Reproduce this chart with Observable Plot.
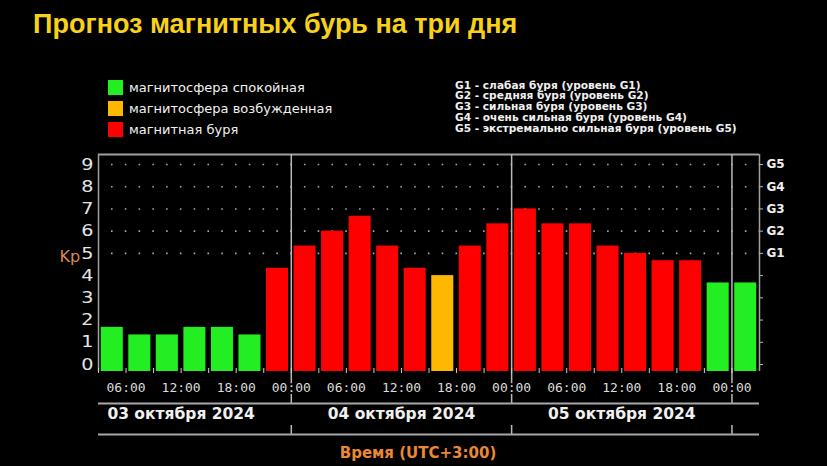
<!DOCTYPE html>
<html>
<head>
<meta charset="utf-8">
<script src="https://cdn.jsdelivr.net/npm/d3@7"></script>
<script src="https://cdn.jsdelivr.net/npm/@observablehq/plot@0.6"></script>
<style>
  html, body { margin: 0; padding: 0; background: #000; }
  #wrap { position: relative; width: 827px; height: 466px; background: #000; overflow: hidden; }
  #title { position: absolute; left: 33px; top: 11px; font: bold 27px/27px "Liberation Sans", Arial, sans-serif; color: #f8d21a; white-space: nowrap; }
  .leg { position: absolute; left: 108px; font: 13px/15px "DejaVu Sans", sans-serif; color: #f2f2f2; white-space: nowrap; }
  .leg span.sw { display: inline-block; width: 15px; height: 15px; vertical-align: top; margin-right: 6px; }
  #glegend { position: absolute; left: 455px; top: 79.7px; font: bold 10.6px/10.7px "DejaVu Sans", sans-serif; color: #f0f0f0; white-space: pre; }
  #chart { position: absolute; left: 0; top: 0; }
</style>
</head>
<body>
<div id="wrap">
  <div id="chart"></div>
  <div id="title"></div>
  <div id="legend"></div>
  <div id="glegend"></div>
</div>
<script>
// ---- data ----
const titleText = "Прогноз магнитных бурь на три дня";
const levelNames = ["магнитосфера спокойная", "магнитосфера возбужденная", "магнитная буря"];
const levelColors = ["#22ee22", "#ffb800", "#ff0000"];
const gLegend = [
  "G1 - слабая буря (уровень G1)",
  "G2 - средняя буря (уровень G2)",
  "G3 - сильная буря (уровень G3)",
  "G4 - очень сильная буря (уровень G4)",
  "G5 - экстремально сильная буря (уровень G5)"
];
// slot start, hours since 03.10.2024 00:00 (UTC+3), 3-hour slots
const slotStart = [3, 6, 9, 12, 15, 18, 21, 24, 27, 30, 33, 36, 39, 42, 45, 48, 51, 54, 57, 60, 63, 66, 69, 72];
const kpValues  = [1.67, 1.33, 1.33, 1.67, 1.67, 1.33, 4.33, 5.33, 6.0, 6.67, 5.33, 4.33, 4.0, 5.33, 6.33, 7.0, 6.33, 6.33, 5.33, 5.0, 4.67, 4.67, 3.67, 3.67];
const kpLevel   = [0, 0, 0, 0, 0, 0, 2, 2, 2, 2, 2, 2, 1, 2, 2, 2, 2, 2, 2, 2, 2, 2, 0, 0];
const slotHours = 3;
const xStart = 3, xEnd = 75;
const kpMin = -0.315, kpMax = 9.45;
const kpTicks = [0, 1, 2, 3, 4, 5, 6, 7, 8, 9];
const gridLevels = [5, 6, 7, 8, 9];
const gTickLabels = ["", "", "", "", "", "G1", "G2", "G3", "G4", "G5"];
const timeTicks = [6, 12, 18, 24, 30, 36, 42, 48, 54, 60, 66, 72];
const dayBounds = [24, 48, 72];
const dayCenters = [12, 36, 60];
const dayLabels = ["03 октября 2024", "04 октября 2024", "05 октября 2024"];
const yLabel = "Kp";
const xLabel = "Время (UTC+3:00)";

// ---- header / legends ----
document.getElementById("title").textContent = titleText;
const legTops = [80, 101, 122];
const legend = document.getElementById("legend");
levelNames.forEach((n, i) => {
  const d = document.createElement("div");
  d.className = "leg";
  d.style.top = legTops[i] + "px";
  d.innerHTML = `<span class="sw" style="background:${levelColors[i]}"></span>${n}`;
  legend.appendChild(d);
});
document.getElementById("glegend").textContent = gLegend.join("\n");

// ---- chart ----
const rows = slotStart.map((s, i) => ({start: s, end: s + slotHours, kp: kpValues[i], level: kpLevel[i]}));
const pad2 = h => String(h % 24).padStart(2, "0") + ":00";

const chart = Plot.plot({
  width: 827,
  height: 466,
  marginTop: 154,
  marginBottom: 95,
  marginLeft: 98,
  marginRight: 68,
  style: {background: "#000", color: "#ddd", fontFamily: "DejaVu Sans, sans-serif", overflow: "visible"},
  x: {domain: [xStart, xEnd], axis: null},
  y: {domain: [kpMin, kpMax], axis: null},
  marks: [
    Plot.ruleY(gridLevels, {stroke: "#a8a8a8", strokeWidth: 1.6, strokeDasharray: "1.6,12.18", strokeDashoffset: 0.8}),
    Plot.rect(rows, {x1: "start", x2: "end", y1: () => kpMin, y2: "kp", fill: d => levelColors[d.level], insetLeft: 2.75, insetRight: 2.75}),
    // frame: top, left, right
    Plot.ruleY([kpMax], {stroke: "#a0a0a0", strokeWidth: 2}),
    Plot.ruleX([xStart, xEnd], {stroke: "#a0a0a0", strokeWidth: 1.5}),
    // day separators
    Plot.ruleX(dayBounds, {stroke: "#b8b8b8", strokeWidth: 1.5, insetBottom: -32}),
    Plot.ruleX(dayBounds, {stroke: "#b8b8b8", strokeWidth: 1.5, insetTop: 271, insetBottom: -63}),
    // small slot ticks
    Plot.ruleX(slotStart, {stroke: "#cfcfcf", strokeWidth: 1, insetTop: 214, insetBottom: -2}),
    // lines under time labels and under day labels
    Plot.ruleY([kpMin], {dy: 32, stroke: "#a8a8a8", strokeWidth: 2}),
    Plot.ruleY([kpMin], {dy: 63, stroke: "#a8a8a8", strokeWidth: 2}),
    Plot.axisY({ticks: kpTicks, tickSize: 0, tickPadding: 5, tickFormat: d => String(d), fontSize: 16, fill: "#e6e6e6", label: null}),
    Plot.axisY({anchor: "right", ticks: kpTicks, tickSize: 3, tickPadding: 4, tickFormat: (d, i) => gTickLabels[i], fontSize: 12, fontWeight: "bold", fill: "#eeeeee", stroke: "#bbbbbb", label: null}),
    Plot.axisX({ticks: timeTicks, tickSize: 0, tickPadding: 11, tickFormat: pad2, fontFamily: "DejaVu Sans Mono, monospace", fontSize: 13, fill: "#dddddd", textStroke: "#000", textStrokeWidth: 4, label: null}),
    Plot.text(dayLabels, {x: (d, i) => dayCenters[i], text: d => d, frameAnchor: "bottom", dy: 47, fontSize: 15.5, fontWeight: "bold", fill: "#f0f0f0"}),
    Plot.text([xLabel], {text: d => d, frameAnchor: "bottom", dy: 86, dx: -11, fontSize: 15, fontWeight: "bold", fill: "#ec8732"}),
    Plot.text([yLabel], {text: d => d, frameAnchor: "left", dx: -39, dy: -6.5, fontSize: 16, fill: "#d98a4a"})
  ]
});
// widen the left Kp tick digits a little, as in the reference
const yGroups = chart.querySelectorAll('g[aria-label="y-axis tick label"]');
if (yGroups.length) {
  yGroups[0].querySelectorAll("text").forEach(t => {
    const tr = t.getAttribute("transform") || "";
    t.setAttribute("transform", tr + " scale(1.2,1)");
  });
}
document.getElementById("chart").appendChild(chart);
</script>
</body>
</html>
